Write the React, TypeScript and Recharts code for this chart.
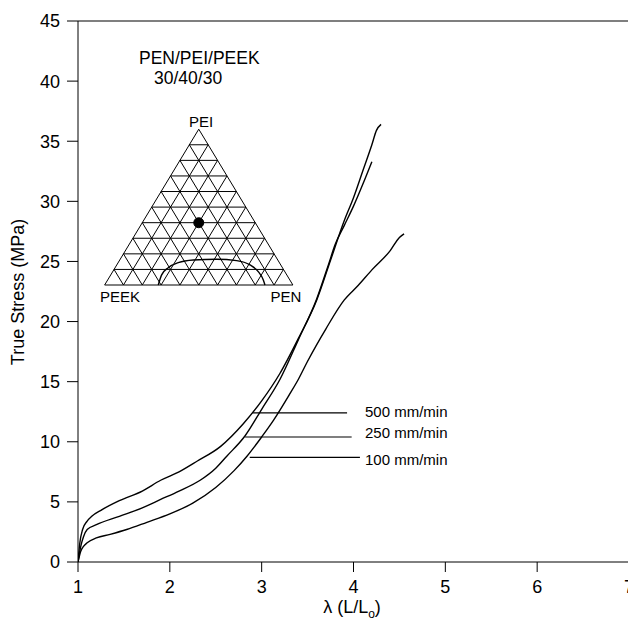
import React from 'react';
import { LineChart, Line, XAxis, YAxis, ReferenceLine, ReferenceDot, Customized } from 'recharts';

const FONT = '"Liberation Sans", Arial, Helvetica, sans-serif';

const xTicks = [1, 2, 3, 4, 5, 6, 7];
const yTicks = [0, 5, 10, 15, 20, 25, 30, 35, 40, 45];

// True stress (MPa) vs draw ratio for three crosshead speeds
const rate500 = [
  { x: 1.0, y: 0 }, { x: 1.02, y: 1.6 }, { x: 1.05, y: 2.7 }, { x: 1.1, y: 3.4 }, { x: 1.15, y: 3.8 },
  { x: 1.25, y: 4.3 }, { x: 1.45, y: 5.1 }, { x: 1.7, y: 5.9 }, { x: 1.9, y: 6.8 }, { x: 2.1, y: 7.5 },
  { x: 2.3, y: 8.4 }, { x: 2.55, y: 9.6 }, { x: 2.8, y: 11.5 }, { x: 3.0, y: 13.4 }, { x: 3.2, y: 15.7 },
  { x: 3.4, y: 18.6 }, { x: 3.6, y: 21.8 }, { x: 3.75, y: 25.1 }, { x: 3.9, y: 28.4 }, { x: 4.0, y: 30.3 },
  { x: 4.1, y: 32.5 }, { x: 4.2, y: 34.7 }, { x: 4.25, y: 35.9 }, { x: 4.3, y: 36.4 },
];
const rate250 = [
  { x: 1.0, y: 0 }, { x: 1.03, y: 1.3 }, { x: 1.06, y: 2.1 }, { x: 1.1, y: 2.7 }, { x: 1.2, y: 3.1 },
  { x: 1.45, y: 3.8 }, { x: 1.7, y: 4.5 }, { x: 1.9, y: 5.2 }, { x: 2.1, y: 5.9 }, { x: 2.33, y: 6.8 },
  { x: 2.5, y: 7.8 }, { x: 2.62, y: 8.8 }, { x: 2.82, y: 10.5 }, { x: 3.0, y: 12.7 }, { x: 3.2, y: 15.2 },
  { x: 3.4, y: 18.5 }, { x: 3.6, y: 21.9 }, { x: 3.73, y: 24.8 }, { x: 3.8, y: 26.4 }, { x: 3.9, y: 28.0 },
  { x: 4.0, y: 29.6 }, { x: 4.1, y: 31.4 }, { x: 4.2, y: 33.3 },
];
const rate100 = [
  { x: 1.0, y: 0 }, { x: 1.03, y: 0.9 }, { x: 1.06, y: 1.3 }, { x: 1.1, y: 1.6 }, { x: 1.2, y: 2.0 },
  { x: 1.35, y: 2.3 }, { x: 1.53, y: 2.7 }, { x: 1.75, y: 3.3 }, { x: 2.0, y: 4.0 }, { x: 2.25, y: 4.9 },
  { x: 2.5, y: 6.2 }, { x: 2.7, y: 7.6 }, { x: 2.84, y: 8.8 }, { x: 3.0, y: 10.4 }, { x: 3.13, y: 11.8 },
  { x: 3.3, y: 13.9 }, { x: 3.4, y: 15.2 }, { x: 3.5, y: 16.7 }, { x: 3.7, y: 19.4 }, { x: 3.9, y: 21.8 },
  { x: 4.05, y: 23.0 }, { x: 4.2, y: 24.3 }, { x: 4.4, y: 25.9 }, { x: 4.5, y: 27.0 }, { x: 4.55, y: 27.3 },
];

// Leader lines for the speed labels
const leaders = [
  { label: '500 mm/min', y: 12.4, x0: 2.9, x1: 3.93 },
  { label: '250 mm/min', y: 10.4, x0: 2.82, x1: 3.98 },
  { label: '100 mm/min', y: 8.7, x0: 2.87, x1: 4.07 },
];

// Ternary inset (in chart data units)
const triLeft = { x: 1.29, y: 23.04 };
const triRight = { x: 3.34, y: 23.04 };
const triApex = { x: 2.315, y: 36.0 };
const triDivisions = 10;
const compositionDot = { x: 2.315, y: 28.22 }; // PEN/PEI/PEEK 30/40/30
const phaseArc = [
  { x: 1.874, y: 23.04 }, { x: 1.911, y: 23.88 }, { x: 1.983, y: 24.48 }, { x: 2.092, y: 24.9 },
  { x: 2.256, y: 25.12 }, { x: 2.51, y: 25.18 }, { x: 2.728, y: 25.07 }, { x: 2.873, y: 24.71 },
  { x: 2.963, y: 24.15 }, { x: 3.018, y: 23.46 }, { x: 3.036, y: 23.04 },
];

const lerp = (a: { x: number; y: number }, b: { x: number; y: number }, t: number) => ({
  x: a.x + (b.x - a.x) * t,
  y: a.y + (b.y - a.y) * t,
});

const triSegments: { x: number; y: number }[][] = [];
triSegments.push([triLeft, triRight], [triLeft, triApex], [triRight, triApex]);
for (let i = 1; i < triDivisions; i++) {
  const t = i / triDivisions;
  triSegments.push([lerp(triLeft, triApex, t), lerp(triRight, triApex, t)]);
  const p = lerp(triLeft, triRight, t);
  triSegments.push([p, lerp(triRight, triApex, 1 - t)]);
  triSegments.push([p, lerp(triLeft, triApex, t)]);
}

const Texts = () => (
  <g fontFamily={FONT} fill="#000">
    <text x={139} y={64} fontSize={17.5}>PEN/PEI/PEEK</text>
    <text x={154} y={84} fontSize={17.5}>30/40/30</text>
    <text x={201} y={127} fontSize={15} textAnchor="middle">PEI</text>
    <text x={120} y={302} fontSize={15} textAnchor="middle">PEEK</text>
    <text x={286} y={302} fontSize={15} textAnchor="middle">PEN</text>
    <text x={365} y={417} fontSize={15}>500 mm/min</text>
    <text x={365} y={438} fontSize={15}>250 mm/min</text>
    <text x={365} y={465} fontSize={15}>100 mm/min</text>
    <text
      x={18}
      y={292}
      fontSize={18}
      textAnchor="middle"
      dominantBaseline="central"
      transform="rotate(-90 18 292)"
    >
      True Stress (MPa)
    </text>
    <text x={352} y={613} fontSize={18} textAnchor="middle">
      λ (L/L<tspan fontSize={12} dy={5}>o</tspan>
      <tspan dy={-5}>)</tspan>
    </text>
  </g>
);

export default function App() {
  return (
    <div style={{ margin: '-8px -8px -8px -8px', width: 636, height: 634, overflow: 'hidden' }}>
      <LineChart
        width={636}
        height={634}
        margin={{ top: 21, right: 7, left: 0, bottom: 0 }}
        style={{ display: 'block' }}
      >
        <XAxis
          type="number"
          dataKey="x"
          domain={[1, 7]}
          ticks={xTicks}
          interval={0}
          allowDataOverflow
          stroke="#000"
          tickSize={10}
          tickMargin={8}
          height={72}
          tick={{ fill: '#000', fontSize: 18, fontFamily: FONT }}
        />
        <YAxis
          type="number"
          domain={[0, 45]}
          ticks={yTicks}
          interval={0}
          allowDataOverflow
          stroke="#000"
          tickSize={11}
          tickMargin={7}
          width={78}
          tick={{ fill: '#000', fontSize: 18, fontFamily: FONT }}
        />
        <ReferenceLine y={45} stroke="#000" strokeWidth={1.2} />
        <ReferenceLine x={7} stroke="#000" strokeWidth={1.2} />
        {triSegments.map((s, i) => (
          <ReferenceLine key={'tri' + i} segment={s} stroke="#000" strokeWidth={1} />
        ))}
        {leaders.map((l) => (
          <ReferenceLine
            key={l.label}
            segment={[{ x: l.x0, y: l.y }, { x: l.x1, y: l.y }]}
            stroke="#000"
            strokeWidth={1.1}
          />
        ))}
        <ReferenceDot x={compositionDot.x} y={compositionDot.y} r={5} fill="#000" stroke="#000" />
        <Line data={phaseArc} dataKey="y" type="monotone" stroke="#000" strokeWidth={1.4} dot={false} isAnimationActive={false} />
        <Line data={rate500} dataKey="y" type="monotone" stroke="#000" strokeWidth={1.4} dot={false} isAnimationActive={false} />
        <Line data={rate250} dataKey="y" type="monotone" stroke="#000" strokeWidth={1.4} dot={false} isAnimationActive={false} />
        <Line data={rate100} dataKey="y" type="monotone" stroke="#000" strokeWidth={1.4} dot={false} isAnimationActive={false} />
        <Customized component={<Texts />} />
      </LineChart>
    </div>
  );
}
